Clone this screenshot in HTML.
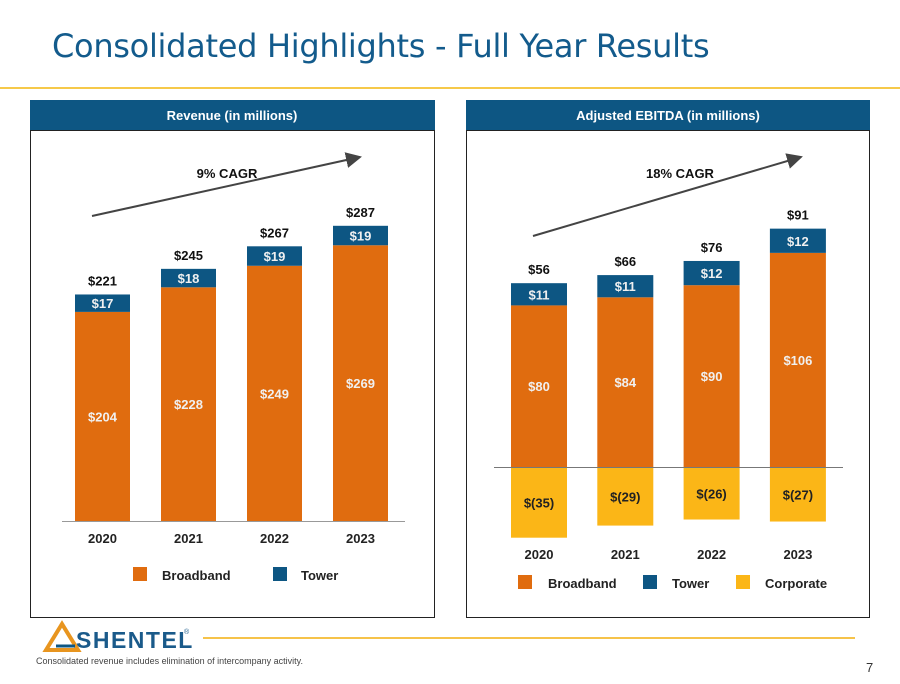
<!DOCTYPE html>
<html><head><meta charset="utf-8"><style>
body{margin:0;width:900px;height:684px;background:#fff;overflow:hidden;font-family:"Liberation Sans",Arial,sans-serif;position:relative}
.abs{position:absolute}
</style></head><body>
<div class="abs" style="left:52px;top:27px;font-size:32px;color:#135b8c;font-family:'DejaVu Sans','Liberation Sans',sans-serif;letter-spacing:-0.3px">Consolidated Highlights - Full Year Results</div>
<div class="abs" style="left:0;top:87px;width:900px;height:2px;background:#f6c94a"></div>
<svg class="abs" style="left:0;top:0" width="900" height="684" id="svg">
<rect x="30" y="100" width="405" height="30" fill="#0d5683"/>
<text x="232" y="120" text-anchor="middle" fill="#fff" font-size="13" font-weight="bold">Revenue (in millions)</text>
<rect x="30.5" y="130.5" width="404" height="487" fill="none" stroke="#222"/>
<rect x="466" y="100" width="404" height="30" fill="#0d5683"/>
<text x="668" y="120" text-anchor="middle" fill="#fff" font-size="13" font-weight="bold">Adjusted EBITDA (in millions)</text>
<rect x="466.5" y="130.5" width="403" height="487" fill="none" stroke="#222"/>
<defs><marker id="ah" markerWidth="8" markerHeight="8" refX="7" refY="4" orient="auto"><path d="M0,0L8,4L0,8z" fill="#444"/></marker></defs>
<line x1="92" y1="216" x2="360" y2="157" stroke="#444" stroke-width="2" marker-end="url(#ah)"/>
<text x="227" y="178" text-anchor="middle" font-size="13" font-weight="bold" fill="#111">9% CAGR</text>
<line x1="533" y1="236" x2="801" y2="157" stroke="#444" stroke-width="2" marker-end="url(#ah)"/>
<text x="680" y="178" text-anchor="middle" font-size="13" font-weight="bold" fill="#111">18% CAGR</text>
<g id="g1"></g><g id="g2"></g>
<rect x="133" y="567" width="14" height="14" fill="#e06c0f"/><text x="162" y="580" font-size="13" font-weight="bold" fill="#222">Broadband</text>
<rect x="273" y="567" width="14" height="14" fill="#0d5683"/><text x="301" y="580" font-size="13" font-weight="bold" fill="#222">Tower</text>
<rect x="518" y="575" width="14" height="14" fill="#e06c0f"/><text x="548" y="588" font-size="13" font-weight="bold" fill="#222">Broadband</text>
<rect x="643" y="575" width="14" height="14" fill="#0d5683"/><text x="672" y="588" font-size="13" font-weight="bold" fill="#222">Tower</text>
<rect x="736" y="575" width="14" height="14" fill="#fbb617"/><text x="765" y="588" font-size="13" font-weight="bold" fill="#222">Corporate</text>
<polygon points="46,650 62,624 78,650" fill="none" stroke="#e8951f" stroke-width="4"/>
<line x1="56" y1="646" x2="75" y2="646" stroke="#0d5683" stroke-width="3"/>
<text x="76" y="648" font-size="23" font-weight="bold" fill="#1a5a8a" letter-spacing="1.5">SHENTEL</text>
<text x="184" y="634" font-size="7" fill="#1a5a8a">®</text>
<line x1="203" y1="638" x2="855" y2="638" stroke="#f6c34a" stroke-width="2"/>
<text x="36" y="664" font-size="9" fill="#444">Consolidated revenue includes elimination of intercompany activity.</text>
<text x="866" y="672" font-size="13" fill="#333">7</text>
</svg>
<script>
const years=["2020","2021","2022","2023"];
const revBroadband=[204,228,249,269];
const revTower=[17,18,19,19];
const revTotal=[221,245,267,287];
const ebBroadband=[80,84,90,106];
const ebTower=[11,11,12,12];
const ebCorporate=[-35,-29,-26,-27];
const ebTotal=[56,66,76,91];
const NS="http://www.w3.org/2000/svg";
function el(g,t,a,txt){const e=document.createElementNS(NS,t);for(const k in a)e.setAttribute(k,a[k]);if(txt!==undefined)e.textContent=txt;g.appendChild(e);return e;}
const g1=document.getElementById('g1'),g2=document.getElementById('g2');
const y1=v=>521-v*1.025, x1=i=>75+i*86, w1=55;
el(g1,'line',{x1:62,y1:521.5,x2:405,y2:521.5,stroke:'#999'});
years.forEach((yr,i)=>{
 const b=el(g1,'rect',{x:x1(i),y:y1(revBroadband[i]),width:w1,height:y1(0)-y1(revBroadband[i]),fill:'#e06c0f'});
 
 
 const t=el(g1,'rect',{x:x1(i),y:y1(revBroadband[i]+revTower[i]),width:w1,height:y1(revBroadband[i])-y1(revBroadband[i]+revTower[i]),fill:'#0d5683'});
 
 
 const cx=x1(i)+w1/2;
 el(g1,'text',{x:cx,y:y1(revBroadband[i]/2)+5,'text-anchor':'middle','font-size':13,'font-weight':'bold',fill:'#f0f0f0'},'$'+revBroadband[i]);
 el(g1,'text',{x:cx,y:(y1(revBroadband[i])+y1(revBroadband[i]+revTower[i]))/2+5,'text-anchor':'middle','font-size':13,'font-weight':'bold',fill:'#f0f0f0'},'$'+revTower[i]);
 el(g1,'text',{x:cx,y:y1(revBroadband[i]+revTower[i])-9,'text-anchor':'middle','font-size':13,'font-weight':'bold',fill:'#111'},'$'+revTotal[i]);
 el(g1,'text',{x:cx,y:543,'text-anchor':'middle','font-size':13,'font-weight':'bold',fill:'#222'},yr);
});
const y2=v=>467-v*2.02, x2=i=>511+i*86.3, w2=56;
years.forEach((yr,i)=>{
 const cx=x2(i)+w2/2;
 const c=el(g2,'rect',{x:x2(i),y:y2(0),width:w2,height:y2(ebCorporate[i])-y2(0),fill:'#fbb617'});
 
 
 const b=el(g2,'rect',{x:x2(i),y:y2(ebBroadband[i]),width:w2,height:y2(0)-y2(ebBroadband[i]),fill:'#e06c0f'});
 
 
 const t=el(g2,'rect',{x:x2(i),y:y2(ebBroadband[i]+ebTower[i]),width:w2,height:y2(ebBroadband[i])-y2(ebBroadband[i]+ebTower[i]),fill:'#0d5683'});
 
 
 el(g2,'text',{x:cx,y:y2(ebBroadband[i]/2)+5,'text-anchor':'middle','font-size':13,'font-weight':'bold',fill:'#f0f0f0'},'$'+ebBroadband[i]);
 el(g2,'text',{x:cx,y:(y2(ebBroadband[i])+y2(ebBroadband[i]+ebTower[i]))/2+5,'text-anchor':'middle','font-size':13,'font-weight':'bold',fill:'#f0f0f0'},'$'+ebTower[i]);
 el(g2,'text',{x:cx,y:y2(ebCorporate[i]/2)+5,'text-anchor':'middle','font-size':13,'font-weight':'bold',fill:'#222'},'$('+(-ebCorporate[i])+')');
 el(g2,'text',{x:cx,y:y2(ebBroadband[i]+ebTower[i])-9,'text-anchor':'middle','font-size':13,'font-weight':'bold',fill:'#111'},'$'+ebTotal[i]);
 el(g2,'text',{x:cx,y:559,'text-anchor':'middle','font-size':13,'font-weight':'bold',fill:'#222'},yr);
});
el(g2,'line',{x1:494,y1:467.5,x2:843,y2:467.5,stroke:'#777'});
</script>
</body></html>
